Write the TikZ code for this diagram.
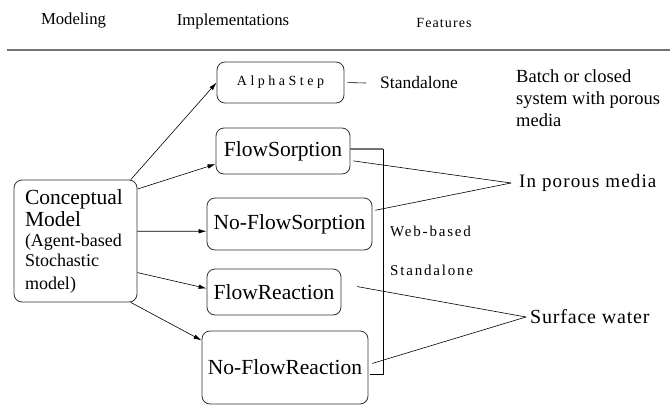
\documentclass[tikz,border=0pt]{standalone}
\usepackage{fontspec}
\setmainfont{Liberation Serif}
\usetikzlibrary{arrows.meta}

\newcommand{\sz}[2]{\fontsize{#1}{#2}\selectfont}
\newcommand{\spaced}[1]{\addfontfeature{LetterSpace=#1}}

\tikzset{
  implbox/.style={draw=black!80, line width=0.8pt, rounded corners=8pt, inner sep=0pt, font=\sz{21.5}{24}},
  label/.style={inner sep=0pt},
  featline/.style={line width=0.6pt},
  >={Latex[length=8pt,width=4.5pt]}
}

\begin{document}
\begin{tikzpicture}[x=1pt,y=-1pt]
\useasboundingbox (0,0) rectangle (670,405);

      % column headings
      \node[label, font=\sz{16.7}{20}] (hmodel) at (73.5,21) {Modeling};
      \node[label, font=\sz{16.7}{20}] (himpl) at (233,21) {Implementations};
      \node[label, font=\sz{14}{16}] (hfeat) at (444,23) {\spaced{8}Features};
      \draw[line width=1.5pt, draw=black!55] (7,50) -- (670,50);

      % modeling
      \node[implbox, minimum width=123pt, minimum height=122pt, text width=101pt,
            inner xsep=11pt, align=left, font=\sz{21.5}{22.5}] (concept) at (75.5,241)
            {Conceptual\\Model\\\sz{18}{20}(Agent-based\\Stochastic\\model)};

      % implementations
      \node[implbox, minimum width=127pt, minimum height=41pt] (alpha) at (280.5,82.5) {\sz{14}{16}\spaced{25}AlphaStep};
      \node[implbox, minimum width=134pt, minimum height=46pt] (fsorp) at (283,151) {FlowSorption};
      \node[implbox, minimum width=165pt, minimum height=52pt] (nfsorp) at (289.5,224) {No-FlowSorption};
      \node[implbox, minimum width=134pt, minimum height=46pt] (freac) at (274,292) {FlowReaction};
      \node[implbox, minimum width=166pt, minimum height=73pt] (nfreac) at (285,367.5) {No-FlowReaction};

      \draw[->, featline] (concept.48) -- (alpha.west);
      \draw[->, featline] (concept.40) -- (fsorp.191);
      \draw[->, featline] (concept.9) -- (nfsorp.185);
      \draw[->, featline] (concept.-27) -- (freac.177);
      \draw[->, featline] (concept.-48) -- (nfreac.162);

      % standalone / web-based bracket
      \node[label, anchor=west, inner xsep=14pt, font=\sz{17.5}{20}] (standA) at (366,83) {Standalone};
      \draw[featline, shorten <=3pt] (alpha.east) -- (standA.west);
      \draw[line width=1.3pt, draw=black!55] ([yshift=2pt]fsorp.east) -- ++(33,0) coordinate (btop);
      \coordinate (bbot) at ([xshift=2pt,yshift=-6.5pt]nfreac.east);
      \draw[featline] (btop) -- (btop |- bbot) -- (bbot);
      \node[label, anchor=west, font=\sz{15}{18}] (web) at (390,231) {\spaced{12}Web-based};
      \node[label, anchor=west, font=\sz{15}{18}] (standB) at (390,270) {\spaced{12}Standalone};

      % features
      \node[label, anchor=north west, align=left, font=\sz{18.5}{22}] (batch) at (516,69.5)
            {Batch or closed\\system with porous\\media};
      \node[label, anchor=west, inner xsep=8pt, font=\sz{19}{22}] (porous) at (511,183) {\spaced{6}In porous media};
      \node[label, anchor=west, inner xsep=4pt, font=\sz{20}{23}] (surface) at (526,317) {\spaced{4}Surface water};

      \draw[featline, shorten <=3pt] (fsorp.-8) -- (porous.west);
      \draw[featline, shorten <=3pt] (nfsorp.9) -- (porous.west);
      \draw[featline, shorten <=16pt] (freac.7) -- (surface.west);
      \draw[featline, shorten <=4pt] (nfreac.2) -- (surface.west);

\end{tikzpicture}
\end{document}
